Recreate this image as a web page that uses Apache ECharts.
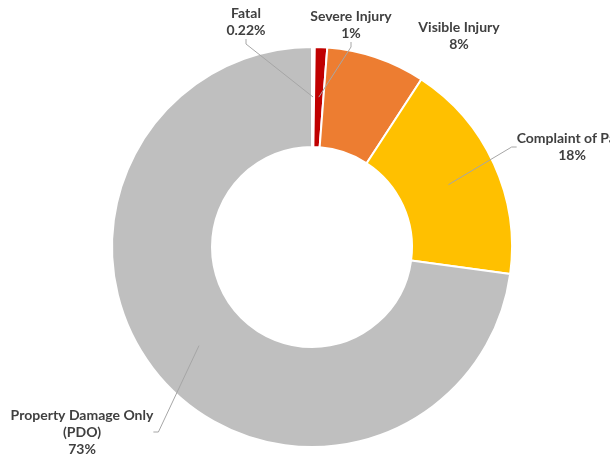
<!DOCTYPE html>
<html>
<head>
<meta charset="utf-8">
<script src="https://cdn.jsdelivr.net/npm/echarts@6/dist/echarts.min.js"></script>
<style>
  html, body { margin: 0; padding: 0; background: #fff; }
  #chartDiv { width: 610px; height: 458px; }
</style>
</head>
<body>
<div id="chartDiv"></div>
<script>
// crash severity share (%)
var categories = ['Fatal', 'Severe Injury', 'Visible Injury', 'Complaint of Pain', 'Property Damage Only\n(PDO)'];
var shares = [0.22, 1, 8, 18, 73];
var colors = ['#7F0000', '#C00000', '#ED7D31', '#FFC000', '#BFBFBF'];
// where each label sits (centre of text block)
var labelPos = [[246, 22], [351, 25], [459, 36], [572, 147], [82, 432]];
var showLine = [true, true, false, true, true];

var ringData = [], labelData = [];
for (var i = 0; i < categories.length; i++) {
  ringData.push({
    name: categories[i],
    value: shares[i],
    // the fatal sliver is swallowed by its white border in the original
    itemStyle: { color: colors[i], borderWidth: i == 0 ? 3 : 2 }
  });
  labelData.push({ name: categories[i], value: shares[i], labelLine: { show: showLine[i] } });
}

var option = {
  animation: false,
  series: [
    {
      type: 'pie',
      z: 2,
      center: [312, 247],
      radius: [100, 200],
      startAngle: 90,
      silent: true,
      label: { show: false },
      labelLine: { show: false },
      itemStyle: { borderColor: '#fff', borderWidth: 2 },
      data: ringData
    },
    {
      // invisible pie whose edge sits mid-ring, only used for labels & leader lines
      type: 'pie',
      z: 5,
      center: [312, 247],
      radius: [0, 150],
      startAngle: 90,
      silent: true,
      avoidLabelOverlap: false,
      itemStyle: { color: 'rgba(0,0,0,0)' },
      label: {
        show: true,
        position: 'outside',
        formatter: '{b}\n{c}%',
        fontFamily: 'Lato',
        fontWeight: 'bold',
        fontSize: 14,
        lineHeight: 17,
        color: '#404040',
        align: 'center'
      },
      labelLine: {
        show: true,
        length: 10,
        length2: 5,
        lineStyle: { color: '#A6A6A6', width: 1 }
      },
      labelLayout: function (params) {
        var p = labelPos[params.dataIndex];
        return { x: p[0], y: p[1], align: 'center', verticalAlign: 'middle' };
      },
      data: labelData
    }
  ]
};

var myChart = echarts.init(document.getElementById('chartDiv'));
myChart.setOption(option, true);
</script>
</body>
</html>
